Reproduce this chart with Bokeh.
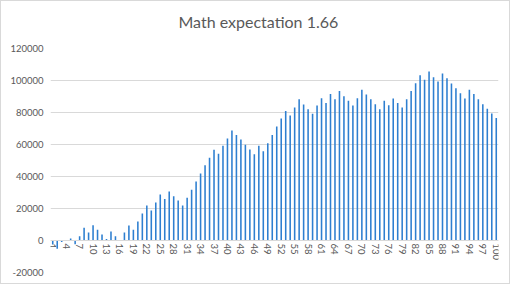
import math
from bokeh.plotting import figure
from bokeh.models import ColumnDataSource, FixedTicker, Title, NumeralTickFormatter, LinearAxis
from bokeh.embed import file_html
from bokeh.resources import INLINE

title_text = "Math expectation 1.66"
categories = list(range(1, 101))
values = [
    -2500, -5200, -1000, -300, 1200, -2300, 2700, 7900, 5000, 9600,
    6700, 3700, 1000, 5600, 2700, 0, 5000, 9400, 6700, 11900,
    16900, 21900, 18700, 23700, 28700, 26000, 30600, 27700, 25000, 21900,
    26700, 31700, 36900, 41900, 47100, 51700, 56700, 54200, 59200, 63700,
    68700, 66000, 63100, 59800, 56900, 53900, 59200, 55800, 60800, 66000,
    71200, 76200, 81000, 78100, 83100, 88300, 85000, 82100, 79200, 84400,
    88900, 86000, 91500, 88300, 93500, 90200, 87300, 84400, 88900, 94200,
    91200, 88300, 85200, 82100, 87300, 84600, 88700, 86000, 83100, 88300,
    93500, 98300, 103300, 100400, 105600, 102100, 99400, 104400, 101400, 98100,
    95200, 92100, 88700, 94200, 91500, 88300, 85200, 82300, 79400, 76500,
]
x_tick_values = list(range(1, 101, 3))
x_tick_labels = [str(v) for v in x_tick_values]
y_ticks = [-20000, 0, 20000, 40000, 60000, 80000, 100000, 120000]

FONT = "Lato"
GRAY = "#595959"

p = figure(width=510, height=284, output_backend="svg", toolbar_location=None,
           x_range=(0.5, 100.5), y_range=(-20000, 120000),
           x_axis_location=None, min_border_left=49, min_border_right=13,
           min_border_top=47, min_border_bottom=13,
           styles={"border": "1px solid #D9D9D9"})
p.background_fill_color = "white"
p.border_fill_color = "white"
p.outline_line_color = None

# spacer panel between plot area and title (pushes title upward)
spacer = Title(text=" ", text_font=FONT, text_font_size="10px", standoff=0,
               text_color="white")
p.add_layout(spacer, "above")
t = Title(text=title_text, align="left", offset=128, standoff=8,
          text_font=FONT, text_font_size="16px",
          text_font_style="normal", text_color=GRAY)
p.add_layout(t, "above")

p.yaxis.ticker = FixedTicker(ticks=y_ticks)
p.yaxis.formatter = NumeralTickFormatter(format="0")
p.yaxis.axis_line_color = None
p.yaxis.major_tick_line_color = None
p.yaxis.major_tick_out = 0
p.yaxis.major_tick_in = 0
p.yaxis.minor_tick_line_color = None
p.yaxis.major_label_text_font = FONT
p.yaxis.major_label_text_font_size = "9.5px"
p.yaxis.major_label_text_color = GRAY
p.yaxis.major_label_standoff = 7

p.ygrid.ticker = FixedTicker(ticks=y_ticks)
p.ygrid.grid_line_color = "#D9D9D9"
p.ygrid.grid_line_width = 1
p.xgrid.grid_line_color = None

src = ColumnDataSource(dict(x=categories, top=values))
p.vbar(x="x", top="top", bottom=0, width=0.35, source=src,
       fill_color="#2E7FD0", line_color=None)

xaxis = LinearAxis(fixed_location=0,
                   ticker=FixedTicker(ticks=x_tick_values),
                   major_label_overrides={v: s for v, s in zip(x_tick_values, x_tick_labels)},
                   major_label_orientation="vertical",
                   axis_line_color="#D9D9D9",
                   major_tick_line_color=None, major_tick_out=0, major_tick_in=0,
                   minor_tick_line_color=None,
                   major_label_standoff=3,
                   major_label_text_font=FONT,
                   major_label_text_font_size="9.5px",
                   major_label_text_color=GRAY)
p.add_layout(xaxis, "below")

open("out.html", "w").write(file_html(p, INLINE))
